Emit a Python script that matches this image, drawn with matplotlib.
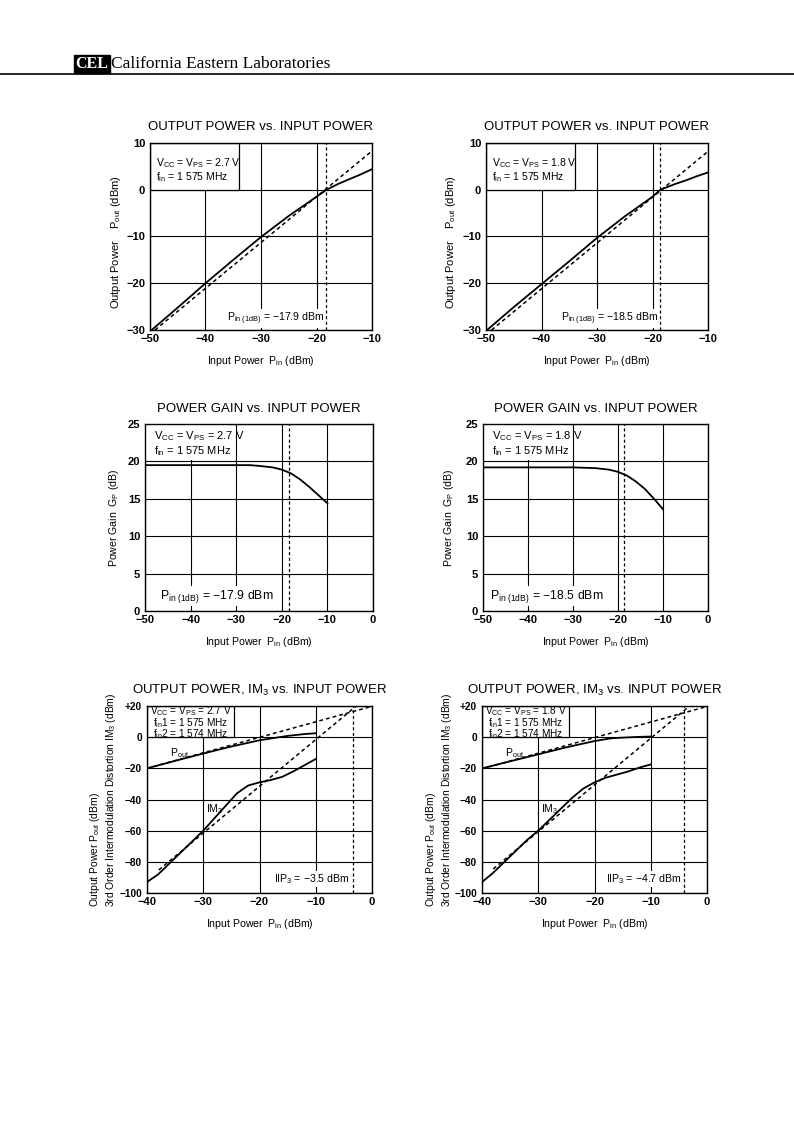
import numpy as np
import matplotlib.pyplot as plt
from matplotlib.patches import Rectangle
from matplotlib.lines import Line2D

plt.rcParams['font.family'] = ['Liberation Sans', 'DejaVu Sans']
plt.rcParams['mathtext.fontset'] = 'custom'
plt.rcParams['mathtext.rm'] = 'Liberation Sans'
plt.rcParams['mathtext.it'] = 'Liberation Sans:italic'
plt.rcParams['mathtext.bf'] = 'Liberation Sans:bold'

# ---- Output power vs input power ----
pin_27 = [-49.7, -45, -40, -35, -30, -25, -20, -18.2, -16, -14, -12, -10]
pout_27 = [-30, -25.2, -20.0, -15.0, -10.1, -5.6, -1.5, 0, 1.3, 2.3, 3.3, 4.4]
lin_27_x = [-49.1, -10]
lin_27_y = [-30, 8.3]
p1db_27_x = -18.2

pin_18 = [-49.8, -45, -40, -35, -30, -25, -20, -18.6, -16, -14, -12, -10]
pout_18 = [-30, -25.1, -20.2, -15.3, -10.3, -5.7, -1.5, 0, 1.2, 2.0, 2.9, 3.7]
lin_18_x = [-49.0, -10]
lin_18_y = [-30, 8.2]
p1db_18_x = -18.6

# ---- Power gain vs input power ----
gpin_27 = [-50, -40, -30, -27, -25, -22, -20, -18, -16, -14, -12, -10]
gain_27 = [19.5, 19.5, 19.5, 19.5, 19.4, 19.2, 18.9, 18.4, 17.6, 16.6, 15.5, 14.4]
gmark_27_x = -18.5

gpin_18 = [-50, -40, -30, -25, -22, -20, -18, -16, -14, -12, -10]
gain_18 = [19.2, 19.2, 19.2, 19.1, 18.9, 18.6, 18.1, 17.3, 16.3, 15.0, 13.6]
gmark_18_x = -18.6

# ---- Output power, IM3 vs input power ----
ipin_27 = [-40, -35, -30, -25, -20, -17, -15, -12, -10]
ipout_27 = [-20, -15.2, -10.5, -6.0, -2.0, -0.3, 0.8, 2.0, 2.5]
im3_x_27 = [-40, -38, -36, -34, -32, -30, -28, -26, -24, -22, -20, -18, -16, -14, -12, -10]
im3_27 = [-93, -88, -81, -74, -67, -60, -52, -44, -36, -31, -29, -27.5, -25.5, -22, -18, -14]
ext_pout_27_x = [-40, 0]
ext_pout_27_y = [-20, 19.8]
ext_im3_27_x = [-37.9, -2.8]
ext_im3_27_y = [-85.2, 20]
iip3_27_x = -3.4

ipin_18 = [-40, -35, -30, -25, -20, -17, -15, -12, -10]
ipout_18 = [-20, -15.5, -11, -6.5, -2.5, -0.7, -0.3, 0.2, 0.4]
im3_x_18 = [-40, -38, -36, -34, -32, -30, -28, -26, -24, -22, -20, -18, -16, -14, -12, -10]
im3_18 = [-93, -87, -80, -73, -66, -60, -53, -46, -39, -33, -29, -26, -24, -22, -19.5, -17.5]
ext_pout_18_x = [-40, 0]
ext_pout_18_y = [-20.3, 19.7]
ext_im3_18_x = [-38.0, -3.1]
ext_im3_18_y = [-84.6, 20]
iip3_18_x = -4.1

W, H = 794, 1123


def px_axes(fig, x0, x1, y0, y1):
    return fig.add_axes([x0 / W, 1 - y1 / H, (x1 - x0) / W, (y1 - y0) / H])


def fmt(v, plus=False):
    if v < 0:
        return '\u2212' + str(abs(v))
    if plus and v > 0:
        return '+' + str(v)
    return str(v)


def setup(ax, xlim, xticks, ylim, yticks, title, xlabel, ylabel, ylab_x, ylab_y=0.5,
          ylab_fs=7.6, ytick_fs=8, plus=False):
    ax.set_xlim(xlim)
    ax.set_ylim(ylim)
    ax.set_xticks(xticks)
    ax.set_yticks(yticks)
    ax.set_xticklabels([fmt(v) for v in xticks], fontsize=8, fontweight='bold')
    ax.set_yticklabels([fmt(v, plus) for v in yticks], fontsize=ytick_fs, fontweight='bold')
    ax.tick_params(axis='x', length=0, pad=3)
    ax.tick_params(axis='y', length=0, pad=3.5)
    ax.set_axisbelow(True)
    ax.grid(True, color='black', lw=0.8)
    for s in ax.spines.values():
        s.set_linewidth(1.0)
    ax.set_title(title, fontsize=9.5, pad=9)
    ax.set_xlabel(xlabel, fontsize=7.6, labelpad=7)
    ax.set_ylabel(ylabel, fontsize=ylab_fs, multialignment='left')
    ax.yaxis.set_label_coords(ylab_x, ylab_y)


fig = plt.figure(figsize=(W / 100, H / 100), dpi=100)

# header
fig.text(92 / W, 1 - 64 / H, 'CEL', color='white', fontsize=11.5, fontweight='bold',
         family='Liberation Serif', ha='center', va='center',
         bbox=dict(facecolor='black', edgecolor='black', boxstyle='square,pad=0.08'))
fig.text(111 / W, 1 - 64 / H, 'California Eastern Laboratories', fontsize=12.5,
         family='Liberation Serif', ha='left', va='center')
fig.add_artist(Line2D([0, 1], [1 - 74 / H] * 2, color='black', lw=1.2))

xl_in = r'Input Power  P$_{\rm in}$ (dBm)'
cond_27 = [r'V$_{\rm CC}$ = V$_{\rm PS}$ = 2.7 V', r'f$_{\rm in}$ = 1 575 MHz']
cond_18 = [r'V$_{\rm CC}$ = V$_{\rm PS}$ = 1.8 V', r'f$_{\rm in}$ = 1 575 MHz']
dash = (2.5, 2)

# ---- row 1 ----
for x0, x1, px, py, lx, ly, mk, cond, lab, ylx in [
        (150, 372, pin_27, pout_27, lin_27_x, lin_27_y, p1db_27_x, cond_27, '\u221217.9', -0.122),
        (486, 708, pin_18, pout_18, lin_18_x, lin_18_y, p1db_18_x, cond_18, '\u221218.5', -0.128)]:
    ax = px_axes(fig, x0, x1, 143, 330)
    setup(ax, (-50, -10), [-50, -40, -30, -20, -10], (-30, 10), [-30, -20, -10, 0, 10],
          'OUTPUT POWER vs. INPUT POWER', xl_in, r'Output Power    P$_{\rm out}$ (dBm)', ylx,
          ylab_y=0.47, ylab_fs=8)
    ax.add_patch(Rectangle((-50, 0), 16, 10, facecolor='white', edgecolor='black', lw=0.9, zorder=1.5))
    ax.text(0.025, 0.893, cond[0], transform=ax.transAxes, fontsize=7.5, va='center', zorder=4)
    ax.text(0.025, 0.818, cond[1], transform=ax.transAxes, fontsize=7.5, va='center', zorder=4)
    ax.plot(lx, ly, color='black', lw=1.1, dashes=dash, zorder=3)
    ax.plot(px, py, color='black', lw=1.3, zorder=3)
    ax.axvline(mk, color='black', lw=0.9, dashes=dash, zorder=3)
    ax.text(mk - 0.4, -27.6, r'P$_{\rm in\ (1dB)}$ = ' + lab + ' dBm', fontsize=7.6, ha='right',
            va='center', zorder=2, bbox=dict(facecolor='white', edgecolor='none', pad=1))

# ---- row 2 ----
for x0, x1, gx, gy, mk, cond, lab, tx, ylx in [
        (145, 373, gpin_27, gain_27, gmark_27_x, cond_27, '\u221217.9', -46.7, -0.105),
        (483, 708, gpin_18, gain_18, gmark_18_x, cond_18, '\u221218.5', -48.4, -0.12)]:
    ax = px_axes(fig, x0, x1, 424, 611)
    setup(ax, (-50, 0), [-50, -40, -30, -20, -10, 0], (0, 25), [0, 5, 10, 15, 20, 25],
          'POWER GAIN vs. INPUT POWER', xl_in, r'Power Gain  G$_{\rm P}$ (dB)', ylx)
    ax.add_patch(Rectangle((-50, 20.2), 18.3, 4.8, facecolor='white', edgecolor='none', zorder=1.5))
    ax.text(0.04, 0.936, cond[0], transform=ax.transAxes, fontsize=8.0, va='center', zorder=4)
    ax.text(0.04, 0.856, cond[1], transform=ax.transAxes, fontsize=8.0, va='center', zorder=4)
    ax.plot(gx, gy, color='black', lw=1.3, zorder=3)
    ax.axvline(mk, color='black', lw=0.9, dashes=dash, zorder=3)
    ax.text(tx, 2.0, r'P$_{\rm in\ (1dB)}$ = ' + lab + ' dBm', fontsize=8.8, ha='left',
            va='center', zorder=2, bbox=dict(facecolor='white', edgecolor='none', pad=1))

# ---- row 3 ----
yl_im = 'Output Power P$_{\\rm out}$ (dBm)\n3rd Order Intermodulation Distortion IM$_3$ (dBm)'
for x0, x1, ox, oy, ix, iy, epx, epy, eix, eiy, mk, vcc, lab, ylx in [
        (147, 372, ipin_27, ipout_27, im3_x_27, im3_27, ext_pout_27_x, ext_pout_27_y,
         ext_im3_27_x, ext_im3_27_y, iip3_27_x, '2.7', '\u22123.5', -0.127),
        (482, 707, ipin_18, ipout_18, im3_x_18, im3_18, ext_pout_18_x, ext_pout_18_y,
         ext_im3_18_x, ext_im3_18_y, iip3_18_x, '1.8', '\u22124.7', -0.126)]:
    ax = px_axes(fig, x0, x1, 706, 893)
    setup(ax, (-40, 0), [-40, -30, -20, -10, 0], (-100, 20), [-100, -80, -60, -40, -20, 0, 20],
          r'OUTPUT POWER, IM$_3$ vs. INPUT POWER', xl_in, yl_im, ylx, ylab_fs=7.4,
          ytick_fs=7.3, plus=True)
    ax.add_patch(Rectangle((-40, 0), 15.4, 20, facecolor='white', edgecolor='black', lw=0.9, zorder=1.5))
    ax.text(0.015, 0.972, r'V$_{\rm CC}$ = V$_{\rm PS}$ = ' + vcc + ' V', transform=ax.transAxes,
            fontsize=7.2, va='center', zorder=4)
    ax.text(0.025, 0.91, r'f$_{\rm in}$1 = 1 575 MHz', transform=ax.transAxes, fontsize=7.2,
            va='center', zorder=4)
    ax.text(0.025, 0.848, r'f$_{\rm in}$2 = 1 574 MHz', transform=ax.transAxes, fontsize=7.2,
            va='center', zorder=4)
    ax.plot(epx, epy, color='black', lw=1.1, dashes=dash, zorder=3)
    ax.plot(eix, eiy, color='black', lw=1.1, dashes=dash, zorder=3)
    ax.plot(ox, oy, color='black', lw=1.3, zorder=3)
    ax.plot(ix, iy, color='black', lw=1.3, zorder=3)
    ax.axvline(mk, color='black', lw=0.9, dashes=dash, zorder=3)
    ax.text(-34.3, -10.3, r'P$_{\rm out}$', fontsize=7.5, ha='center', va='center', zorder=4)
    ax.text(-27.9, -46, r'IM$_3$', fontsize=7.5, ha='center', va='center', zorder=4)
    ax.text(mk - 0.5, -91, r'IIP$_3$ = ' + lab + ' dBm', fontsize=7.6, ha='right',
            va='center', zorder=2, bbox=dict(facecolor='white', edgecolor='none', pad=1))

fig.savefig('out.png', dpi=100)
